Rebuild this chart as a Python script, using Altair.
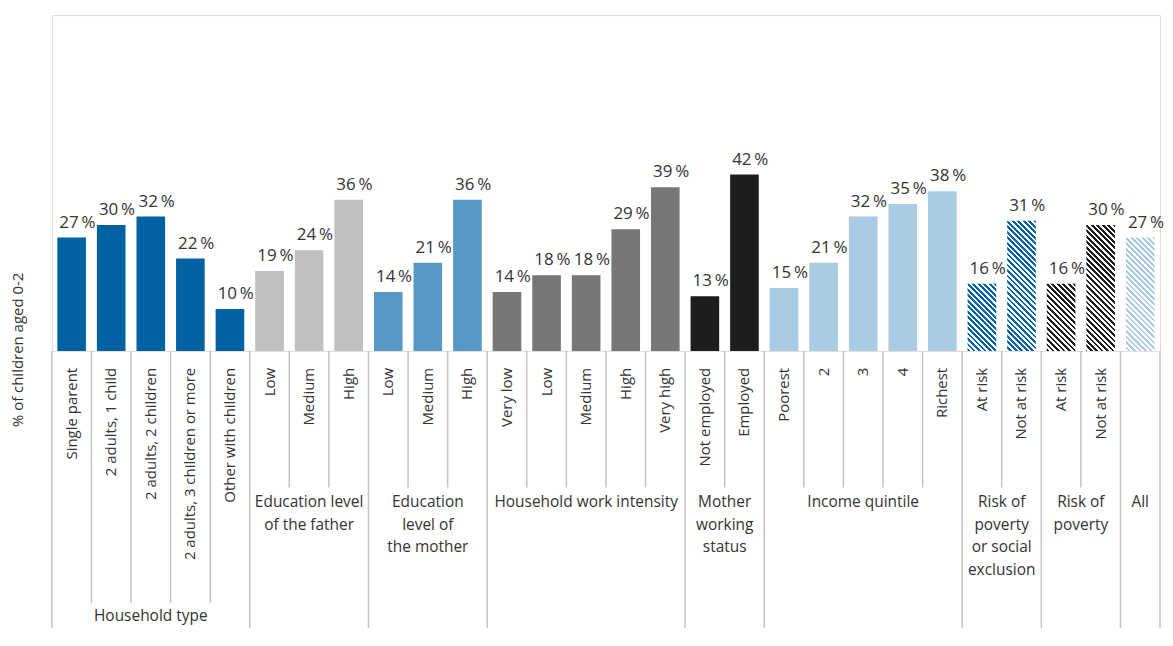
import altair as alt
import pandas as pd

# ---------------- data ----------------
groups = ["Household type", "Education level of the father", "Education level of the mother",
          "Household work intensity", "Mother working status", "Income quintile",
          "Risk of poverty or social exclusion", "Risk of poverty", "All"]
group_lines = [["Household type"], ["Education level", "of the father"],
               ["Education", "level of", "the mother"], ["Household work intensity"],
               ["Mother", "working", "status"], ["Income quintile"],
               ["Risk of", "poverty", "or social", "exclusion"], ["Risk of", "poverty"], ["All"]]
categories = [
    ["Single parent", "2 adults, 1 child", "2 adults, 2 children",
     "2 adults, 3 children or more", "Other with children"],
    ["Low", "Medium", "High"],
    ["Low", "Medium", "High"],
    ["Very low", "Low", "Medium", "High", "Very high"],
    ["Not employed", "Employed"],
    ["Poorest", "2", "3", "4", "Richest"],
    ["At risk", "Not at risk"],
    ["At risk", "Not at risk"],
    [""],
]
values = [[27, 30, 32, 22, 10], [19, 24, 36], [14, 21, 36], [14, 18, 18, 29, 39],
          [13, 42], [15, 21, 32, 35, 38], [16, 31], [16, 30], [27]]
group_colors = ["#0061A3", "#BFBFBF", "#5898C5", "#777777", "#1D1D1B",
                "#A9CBE3", "#0061A3", "#1D1D1B", "#A9CBE3"]
group_hatched = [False, False, False, False, False, False, True, True, True]
y_title = "% of children aged 0-2"

# ---------------- layout constants ----------------
W, H = 1112, 337
YMAX = 80
PAD_IN = 0.277
n_bars = sum(len(c) for c in categories)
step = W / n_bars
bandwidth = step * (1 - PAD_IN)
half_gap = step * PAD_IN / 2
TXT = "#333333"
SEP = "#C3C3C3"
FONT = "Open Sans"

rows = []
for gi, g in enumerate(groups):
    for ci, (c, v) in enumerate(zip(categories[gi], values[gi])):
        rows.append({"key": f"{gi}-{ci}", "group": g, "category": c, "value": v,
                     "label": f"{v}\u2009%", "hatched": group_hatched[gi],
                     "color": group_colors[gi],
                     "kind": "group" if ci == 0 else ("inner_ht" if gi == 0 else "inner")})
df = pd.DataFrame(rows)
keys = list(df["key"])

grows = []
for gi, g in enumerate(groups):
    m = len(categories[gi])
    grows.append({"group": g, "lines": group_lines[gi],
                  "anchor": f"{gi}-{m // 2}", "even": m % 2 == 0, "first": gi == 0})
gdf = pd.DataFrame(grows)

xscale = alt.Scale(domain=keys, paddingInner=PAD_IN, paddingOuter=PAD_IN / 2)
X = alt.X("key:N", scale=xscale, axis=None)
X0 = alt.X("key:N", scale=xscale, axis=None, bandPosition=0)
X1 = alt.X("key:N", scale=xscale, axis=None, bandPosition=1)
Y = alt.Y("value:Q", scale=alt.Scale(domain=[0, YMAX]), axis=None)

base = alt.Chart(df)

solid = base.transform_filter("!datum.hatched").mark_bar().encode(
    x=X, y=Y,
    color=alt.Color("group:N", scale=alt.Scale(domain=groups, range=group_colors), legend=None),
)


def hatch(color, w, h, pv=5.5):
    s = (1 / h + 1 / w) / (1 / h ** 2 + 1 / w ** 2)
    a, b = s / h, s / w
    n = (w + h) / pv
    stops = []
    k = 0
    while k / n < 1:
        t0, t1, t2 = k / n, min((k + 0.5) / n, 1), min((k + 1) / n, 1)
        stops += [(t0, color), (t1, color), (t1, "#ffffff"), (t2, "#ffffff")]
        k += 1
    return alt.LinearGradient(gradient="linear",
                              stops=[alt.GradientStop(offset=o, color=c) for o, c in stops],
                              x1=1, y1=0, x2=1 - a, y2=b)


hatch_layers = []
for r in rows:
    if r["hatched"]:
        h = r["value"] / YMAX * H
        hatch_layers.append(
            base.transform_filter(alt.datum.key == r["key"])
            .mark_bar(fill=hatch(r["color"], bandwidth, h))
            .encode(x=X, y=Y)
        )

value_labels = base.mark_text(align="left", baseline="alphabetic", dx=2, dy=-10,
                              fontSize=17, color=TXT, font=FONT).encode(
    x=X0, y=Y, text="label:N")

cat_labels = base.mark_text(angle=270, align="right", baseline="middle",
                            fontSize=15, color=TXT, font=FONT).encode(
    x=X, y=alt.value(354), text="category:N")

sep_group = base.transform_filter(alt.datum.kind == "group").mark_rule(
    color=SEP, strokeWidth=1.5, xOffset=-half_gap).encode(
    x=X0, y=alt.value(H), y2=alt.value(H + 330))
sep_ht = base.transform_filter(alt.datum.kind == "inner_ht").mark_rule(
    color=SEP, strokeWidth=1.5, xOffset=-half_gap).encode(
    x=X0, y=alt.value(H), y2=alt.value(590))
sep_inner = base.transform_filter(alt.datum.kind == "inner").mark_rule(
    color=SEP, strokeWidth=1.5, xOffset=-half_gap).encode(
    x=X0, y=alt.value(H), y2=alt.value(474))
sep_end = base.transform_filter(alt.datum.key == keys[-1]).mark_rule(
    color=SEP, strokeWidth=1.5, xOffset=half_gap).encode(
    x=X1, y=alt.value(H), y2=alt.value(H + 330))

gbase = alt.Chart(gdf)
g_odd_top = gbase.transform_filter("!datum.even && !datum.first").mark_text(
    align="center", baseline="top", fontSize=15.5, lineHeight=22.5, color=TXT, font=FONT).encode(
    x=alt.X("anchor:N", scale=xscale, axis=None), y=alt.value(482), text="lines")
g_even = gbase.transform_filter("datum.even").mark_text(
    align="center", baseline="top", fontSize=15.5, lineHeight=22.5, color=TXT, font=FONT,
    xOffset=-half_gap).encode(
    x=alt.X("anchor:N", scale=xscale, axis=None, bandPosition=0), y=alt.value(482), text="lines")
g_first = gbase.transform_filter("datum.first").mark_text(
    align="center", baseline="top", fontSize=15.5, lineHeight=22.5, color=TXT, font=FONT).encode(
    x=alt.X("anchor:N", scale=xscale, axis=None), y=alt.value(596), text="lines")

ytitle = alt.Chart(pd.DataFrame({"t": [y_title]})).mark_text(
    angle=270, align="center", baseline="middle", fontSize=15, color=TXT, font=FONT).encode(
    x=alt.value(-33.5), y=alt.value(336), text="t:N")

chart = alt.layer(
    solid, *hatch_layers, value_labels, cat_labels,
    sep_group, sep_ht, sep_inner, sep_end,
    g_odd_top, g_even, g_first, ytitle,
).properties(
    width=W, height=H,
    autosize=alt.AutoSizeParams(type="none"),
    padding={"left": 44, "top": 6, "right": 5, "bottom": 277},
).configure_view(
    stroke=SEP, strokeWidth=1.5
).configure(font=FONT)

chart.save("out.html", embed_options={"renderer": "svg", "actions": False})
